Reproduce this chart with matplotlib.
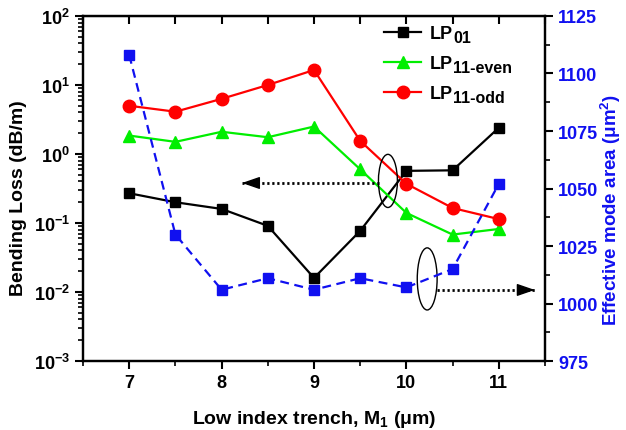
import numpy as np
import matplotlib
matplotlib.use('Agg')
import matplotlib.pyplot as plt
from matplotlib.patches import Ellipse
from matplotlib.ticker import MultipleLocator, LogLocator, NullFormatter

plt.rcParams['font.family'] = ['Liberation Sans', 'DejaVu Sans']
plt.rcParams['font.weight'] = 'bold'
plt.rcParams['mathtext.fontset'] = 'custom'
plt.rcParams['mathtext.rm'] = 'Liberation Sans:bold'
plt.rcParams['mathtext.bf'] = 'Liberation Sans:bold'
plt.rcParams['mathtext.it'] = 'Liberation Sans'
plt.rcParams['mathtext.sf'] = 'Liberation Sans:bold'

# 低折射率沟槽宽度 M1 (um)
m1 = [7, 7.5, 8, 8.5, 9, 9.5, 10, 10.5, 11]

# 弯曲损耗 (dB/m)
loss_lp01 = [0.27, 0.20, 0.16, 0.091, 0.016, 0.077, 0.57, 0.58, 2.4]
loss_lp11_even = [1.85, 1.5, 2.1, 1.75, 2.5, 0.6, 0.14, 0.068, 0.082]
loss_lp11_odd = [5.0, 4.1, 6.3, 10.0, 16.5, 1.55, 0.37, 0.165, 0.114]

# 有效模场面积 (um^2)
area = [1108, 1030, 1006, 1011, 1006, 1011, 1007, 1015, 1052]

mode_names = ['LP', 'LP', 'LP']
mode_subs = ['01', '11-even', '11-odd']

blue = '#1010f0'

fig = plt.figure(figsize=(6.26, 4.31), dpi=100)
ax = fig.add_axes([0.1326, 0.160, 0.738, 0.8006])

ax.plot(m1, loss_lp01, '-s', color='black', lw=1.6, ms=7.5, label=mode_names[0])
ax.plot(m1, loss_lp11_even, '-^', color='#00ee00', lw=1.6, ms=9, label=mode_names[1])
ax.plot(m1, loss_lp11_odd, '-o', color='#ff0000', lw=1.6, ms=9, label=mode_names[2])

ax.set_yscale('log')
ax.set_ylim(1e-3, 1e2)
ax.set_xlim(6.5, 11.5)
ax.xaxis.set_major_locator(MultipleLocator(1))
ax.xaxis.set_minor_locator(MultipleLocator(0.5))
ax.yaxis.set_major_locator(LogLocator(base=10, numticks=10))
ax.yaxis.set_minor_locator(LogLocator(base=10, subs=np.arange(2, 10), numticks=100))
ax.yaxis.set_minor_formatter(NullFormatter())

ax.set_xlabel(r'Low index trench, M$_\mathbf{1}$ ($\mu$m)', fontsize=14, fontweight='bold')
ax.xaxis.set_label_coords(0.5, -0.135)
ax.set_ylabel('Bending Loss (dB/m)', fontsize=14, fontweight='bold')
ax.yaxis.set_label_coords(-0.121, 0.475)

for s in ax.spines.values():
    s.set_linewidth(1.6)
ax.tick_params(axis='both', which='major', labelsize=13, width=1.5, length=6)
ax.tick_params(axis='both', which='minor', width=1.2, length=3.5)
ax.tick_params(axis='both', which='both', direction='out', top=False)

leg = ax.legend(loc='upper left', bbox_to_anchor=(0.636, 0.995), frameon=False,
                fontsize=13, handlelength=2.05, handletextpad=0.5, labelspacing=0.72,
                borderaxespad=0)

# 右轴：有效模场面积
ax2 = ax.twinx()
ax2.plot(m1, area, 's', color=blue, ms=7.5, linestyle=(0, (4, 2.5)), lw=1.6)
ax2.set_ylim(975, 1125)
ax2.yaxis.set_major_locator(MultipleLocator(25))
ax2.yaxis.set_minor_locator(MultipleLocator(12.5))
ax2.tick_params(axis='y', which='major', labelsize=13, labelcolor=blue, width=1.5, length=6, direction='out')
ax2.tick_params(axis='y', which='minor', width=1.2, length=3.5, direction='out')
ax2.set_ylabel('Effective mode area ($\\mu$m$^\\mathbf{2}$)', fontsize=13.5, fontweight='bold', color=blue)
ax2.yaxis.set_label_coords(1.117, 0.44)
for s in ax2.spines.values():
    s.set_linewidth(1.6)

# 顶部刻度朝内
ax3 = ax.secondary_xaxis('top')
ax3.xaxis.set_major_locator(MultipleLocator(0.5))
ax3.tick_params(axis='x', direction='in', length=6, width=1.5, labeltop=False)

# 椭圆与虚线箭头
tr = ax2.transAxes
ax2.add_patch(Ellipse((0.660, 0.522), 0.041, 0.154, transform=tr, fill=False, ec='black', lw=1.0))
ax2.add_patch(Ellipse((0.745, 0.238), 0.043, 0.180, transform=tr, fill=False, ec='black', lw=1.0))

def dotted_arrow(x0, x1, y):
    ax2.plot([x0, x1], [y, y], transform=tr, color='black', lw=2.0,
             linestyle=(0, (0.8, 1.0)), solid_capstyle='butt')
    step = 0.01 if x1 > x0 else -0.01
    ax2.annotate('', xy=(x1, y), xytext=(x1 - step, y), xycoords=tr, textcoords=tr,
                 arrowprops=dict(arrowstyle='-|>,head_length=1.1,head_width=0.38', lw=1.0,
                                 color='black', shrinkA=0, shrinkB=0))

dotted_arrow(0.641, 0.344, 0.516)
dotted_arrow(0.766, 0.978, 0.206)

# 图例下标
fig.canvas.draw()
for t, sub in zip(leg.get_texts(), mode_subs):
    bb = t.get_window_extent()
    fig.text(bb.x1 / fig.bbox.width, (bb.y0 - 0.5) / fig.bbox.height, sub,
             fontsize=11.5, fontweight='bold', va='baseline', ha='left')

fig.savefig('out.png', dpi=100)
